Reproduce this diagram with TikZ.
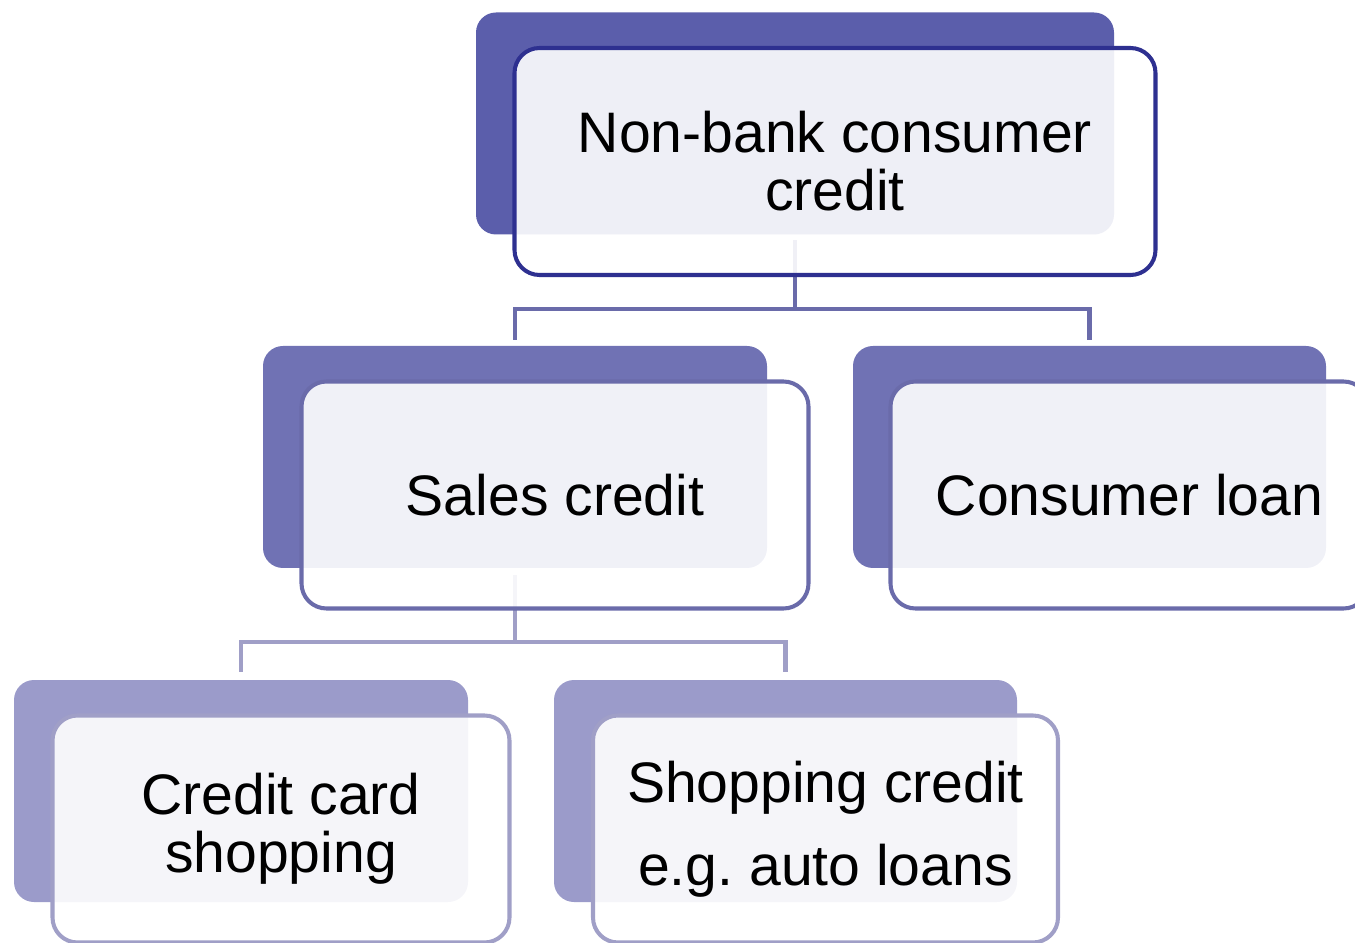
\documentclass[tikz,border=0pt]{standalone}
\usepackage{fontspec}
\setmainfont{Liberation Sans}
\usepackage{tikz}
\usetikzlibrary{positioning,calc}

\definecolor{backA}{HTML}{5B5EAB}
\definecolor{lineA}{HTML}{2E3090}
\definecolor{backB}{HTML}{7072B4}
\definecolor{lineB}{HTML}{6A6BAA}
\definecolor{backC}{HTML}{9B9BCA}
\definecolor{lineC}{HTML}{A09FC7}

\begin{document}
\begin{tikzpicture}[font=\fontsize{32.5}{33}\selectfont,
back/.style={rectangle, rounded corners=0.4cm, draw=none, minimum height=4.44cm},
backA_s/.style={back, fill=backA},
backB_s/.style={back, fill=backB},
backC_s/.style={back, fill=backC},
front/.style={rectangle, rounded corners=0.5cm, line width=2.3pt, fill=white, fill opacity=0.9, text opacity=1, align=center, inner sep=0pt, minimum height=4.54cm},
frontA_s/.style={front, draw=lineA},
frontB_s/.style={front, draw=lineB},
frontC_s/.style={front, draw=lineC},
linkB/.style={draw=lineB, line width=2.4pt},
linkC/.style={draw=lineC, line width=2.4pt}]

   \useasboundingbox (0,0) rectangle (27.1,18.84);

   % back boxes
   \node[backA_s, minimum width=12.76cm] (credit-b) at (15.9,16.37) {};
   \node[backB_s, minimum width=10.08cm] (sales-b) at (10.3,9.7) {};
   \node[backB_s, minimum width=9.46cm] (loan-b) at (21.79,9.7) {};
   \node[backC_s, minimum width=9.08cm] (card-b) at (4.82,3.02) {};
   \node[backC_s, minimum width=9.26cm] (shop-b) at (15.71,3.02) {};

   % connectors
   \draw[linkB, shorten <=0.1cm] (credit-b.south) -- ++(0,-1.48) coordinate (credit-j);
   \draw[linkB, shorten >=0.12cm] (credit-j) -| (sales-b.north);
   \draw[linkB, shorten >=0.12cm] (credit-j) -| (loan-b.north);

   \draw[linkC, shorten <=0.14cm] (sales-b.south) -- ++(0,-1.48) coordinate (sales-j);
   \draw[linkC, shorten >=0.16cm] (sales-j) -| (card-b.north);
   \draw[linkC, shorten >=0.16cm] (sales-j) -| (shop-b.north);

   % front boxes
   \node[frontA_s, minimum width=12.82cm] (credit) at ([shift={(0.8,-0.76)}]credit-b.center) {Non-bank consumer\\credit};
   \node[frontB_s, minimum width=10.14cm] (sales) at ([shift={(0.8,-0.76)}]sales-b.center) {Sales credit};
   \node[frontB_s, minimum width=9.56cm] (loan) at ([shift={(0.8,-0.76)}]loan-b.center) {Consumer loan};
   \node[frontC_s, minimum width=9.14cm] (card) at ([shift={(0.8,-0.76)}]card-b.center) {Credit card\\shopping};
   \node[frontC_s, minimum width=9.30cm] (shop) at ([shift={(0.8,-0.76)}]shop-b.center) {Shopping credit\\[0.5cm]e.g.\ auto loans};

\end{tikzpicture}
\end{document}
